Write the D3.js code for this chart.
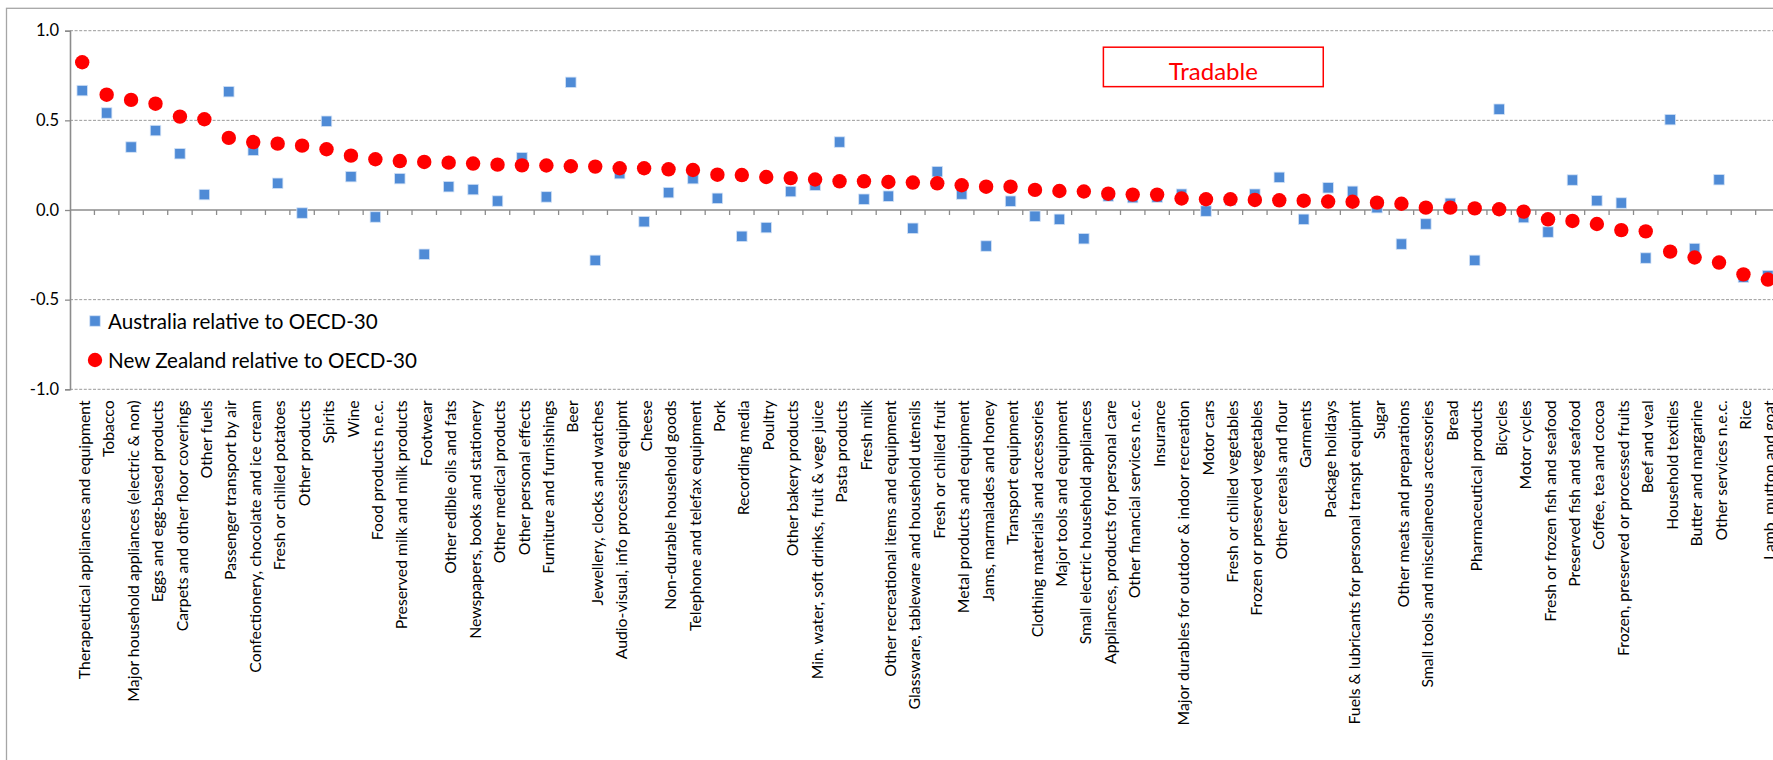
<!DOCTYPE html>
<html>
<head>
<meta charset="utf-8">
<script src="https://cdn.jsdelivr.net/npm/d3@7"></script>
<style>
  html, body { margin: 0; padding: 0; background: #fff; overflow: hidden; }
  svg { display: block; font-family: Lato, "Open Sans", sans-serif; }
</style>
</head>
<body>
<svg id="chart" width="1773" height="760"></svg>
<script>
// Price levels of tradable goods, relative to the OECD-30 average
const categories = [
  "Therapeutical appliances and equipment", "Tobacco", "Major household appliances (electric & non)",
  "Eggs and egg-based products", "Carpets and other floor coverings", "Other fuels",
  "Passenger transport by air", "Confectionery, chocolate and ice cream", "Fresh or chilled potatoes",
  "Other products", "Spirits", "Wine", "Food products n.e.c.", "Preserved milk and milk products",
  "Footwear", "Other edible oils and fats", "Newspapers, books and stationery", "Other medical products",
  "Other personal effects", "Furniture and furnishings", "Beer", "Jewellery, clocks and watches",
  "Audio-visual, info processing equipmt", "Cheese", "Non-durable household goods",
  "Telephone and telefax equipment", "Pork", "Recording media", "Poultry", "Other bakery products",
  "Min. water, soft drinks, fruit & vege juice", "Pasta products", "Fresh milk",
  "Other recreational items and equipment", "Glassware, tableware and household utensils",
  "Fresh or chilled fruit", "Metal products and equipment", "Jams, marmalades and honey",
  "Transport equipment", "Clothing materials and accessories", "Major tools and equipment",
  "Small electric household appliances", "Appliances, products for personal care",
  "Other financial services n.e.c", "Insurance", "Major durables for outdoor & indoor recreation",
  "Motor cars", "Fresh or chilled vegetables", "Frozen or preserved vegetables",
  "Other cereals and flour", "Garments", "Package holidays",
  "Fuels & lubricants for personal transpt equipmt", "Sugar", "Other meats and preparations",
  "Small tools and miscellaneous accessories", "Bread", "Pharmaceutical products", "Bicycles",
  "Motor cycles", "Fresh or frozen fish and seafood", "Preserved fish and seafood",
  "Coffee, tea and cocoa", "Frozen, preserved or processed fruits", "Beef and veal",
  "Household textiles", "Butter and margarine", "Other services n.e.c.", "Rice",
  "Lamb, mutton and goat"
];

const australia = [
  0.666, 0.541, 0.351, 0.443, 0.314, 0.086, 0.660, 0.333, 0.149, -0.017,
  0.495, 0.186, -0.039, 0.175, -0.247, 0.130, 0.114, 0.050, 0.292, 0.073,
  0.712, -0.281, 0.203, -0.065, 0.097, 0.175, 0.065, -0.147, -0.098, 0.103,
  0.138, 0.379, 0.060, 0.077, -0.102, 0.214, 0.089, -0.201, 0.049, -0.035,
  -0.052, -0.160, 0.078, 0.069, 0.072, 0.088, -0.006, 0.054, 0.088, 0.182,
  -0.052, 0.124, 0.104, 0.013, -0.190, -0.078, 0.037, -0.281, 0.562, -0.042,
  -0.123, 0.167, 0.052, 0.039, -0.268, 0.504, -0.215, 0.169, -0.375, -0.366
];

const newZealand = [
  0.824, 0.643, 0.614, 0.593, 0.521, 0.506, 0.402, 0.379, 0.370, 0.359,
  0.339, 0.303, 0.283, 0.273, 0.268, 0.264, 0.259, 0.253, 0.249, 0.248,
  0.244, 0.242, 0.233, 0.233, 0.227, 0.223, 0.197, 0.195, 0.184, 0.178,
  0.170, 0.160, 0.160, 0.156, 0.153, 0.149, 0.138, 0.130, 0.130, 0.112,
  0.106, 0.103, 0.091, 0.086, 0.086, 0.064, 0.060, 0.060, 0.056, 0.054,
  0.052, 0.047, 0.046, 0.041, 0.035, 0.013, 0.013, 0.009, 0.004, -0.009,
  -0.052, -0.061, -0.078, -0.112, -0.119, -0.232, -0.265, -0.293, -0.359, -0.388
];

const yTicks = [-1.0, -0.5, 0.0, 0.5, 1.0];
const seriesNames = ["Australia relative to OECD-30", "New Zealand relative to OECD-30"];
const panelTitle = "Tradable";

// ---- layout ----
const plot = { left: 70, top: 30.7, bottom: 389.3 };
const band = 24.43;
plot.right = plot.left + band * categories.length;

const svg = d3.select("#chart");
const gridColor = "#9a9a9a";
const axisColor = "#8c8c8c";

const x = d3.scaleBand().domain(categories).range([plot.left, plot.right]).padding(0);
const y = d3.scaleLinear().domain([-1, 1]).range([plot.bottom, plot.top]);

// chart area frame
svg.append("rect")
  .attr("x", 6.5).attr("y", 8.3)
  .attr("width", 1800).attr("height", 800)
  .attr("fill", "#fff")
  .attr("stroke", "#a6a6a6").attr("stroke-width", 1.3);

// dashed horizontal gridlines
svg.append("g")
  .selectAll("line")
  .data(yTicks.filter(d => d !== 0))
  .join("line")
  .attr("x1", plot.left).attr("x2", plot.right)
  .attr("y1", d => y(d)).attr("y2", d => y(d))
  .attr("stroke", gridColor).attr("stroke-width", 1)
  .attr("stroke-dasharray", "3,1.6");

// y axis
const yAxis = svg.append("g")
  .attr("transform", `translate(${plot.left},0)`)
  .call(d3.axisLeft(y).tickValues(yTicks).tickFormat(d3.format(".1f")).tickSize(5).tickPadding(6));
yAxis.select(".domain").attr("stroke", axisColor).attr("stroke-width", 1.6);
yAxis.selectAll(".tick line").attr("stroke", axisColor).attr("stroke-width", 1.3);
yAxis.selectAll(".tick text")
  .attr("font-family", "Lato, sans-serif").attr("font-size", 16.5).attr("fill", "#000")
  .text(d => d3.format(".1f")(d).replace("−", "-"));

// x axis line at zero with tick marks on category boundaries
const xAxisG = svg.append("g");
xAxisG.append("line")
  .attr("x1", plot.left).attr("x2", plot.right)
  .attr("y1", y(0)).attr("y2", y(0))
  .attr("stroke", axisColor).attr("stroke-width", 1.6);
xAxisG.selectAll("line.tk")
  .data(categories)
  .join("line")
  .attr("class", "tk")
  .attr("x1", d => x(d) + x.bandwidth()).attr("x2", d => x(d) + x.bandwidth())
  .attr("y1", y(0)).attr("y2", y(0) + 5)
  .attr("stroke", axisColor).attr("stroke-width", 1.3);

// category labels, rotated, hanging below the plot area
svg.append("g")
  .selectAll("text")
  .data(categories)
  .join("text")
  .attr("transform", d => `translate(${x(d) + x.bandwidth() / 2},${plot.bottom + 11}) rotate(-90)`)
  .attr("text-anchor", "end")
  .attr("dy", "0.48em")
  .attr("font-size", 15.8)
  .attr("fill", "#000")
  .text(d => d);

// Australia: blue squares
const sq = 10.5;
svg.append("g")
  .selectAll("rect")
  .data(categories.map((c, i) => ({ c, v: australia[i] })))
  .join("rect")
  .attr("x", d => x(d.c) + x.bandwidth() / 2 - sq / 2)
  .attr("y", d => y(d.v) - sq / 2)
  .attr("width", sq).attr("height", sq)
  .attr("fill", "#4f8bd6")
  .attr("stroke", "#d3e2f6").attr("stroke-width", 0.8);

// New Zealand: red circles
svg.append("g")
  .selectAll("circle")
  .data(categories.map((c, i) => ({ c, v: newZealand[i] })))
  .join("circle")
  .attr("cx", d => x(d.c) + x.bandwidth() / 2)
  .attr("cy", d => y(d.v))
  .attr("r", 7.2)
  .attr("fill", "#ff0000");

// legend
const legend = svg.append("g").attr("transform", "translate(95,0)");
legend.append("rect")
  .attr("x", -sq / 2).attr("y", 321 - sq / 2)
  .attr("width", sq).attr("height", sq)
  .attr("fill", "#4f8bd6").attr("stroke", "#d3e2f6").attr("stroke-width", 0.8);
legend.append("circle").attr("cx", 0).attr("cy", 360).attr("r", 7.2).attr("fill", "#ff0000");
legend.selectAll("text")
  .data(seriesNames)
  .join("text")
  .attr("x", 13)
  .attr("y", (d, i) => [328.5, 367.5][i])
  .attr("font-size", 20.6)
  .attr("fill", "#000")
  .text(d => d);

// panel label box
const boxX0 = plot.left + band * 42.3, boxX1 = plot.left + band * 51.3;
const boxY0 = y(0.908), boxY1 = y(0.688);
svg.append("rect")
  .attr("x", boxX0).attr("y", boxY0)
  .attr("width", boxX1 - boxX0).attr("height", boxY1 - boxY0)
  .attr("fill", "#fff").attr("stroke", "#ff0000").attr("stroke-width", 1.5);
svg.append("text")
  .attr("x", (boxX0 + boxX1) / 2).attr("y", boxY1 - 7)
  .attr("text-anchor", "middle")
  .attr("font-size", 24)
  .attr("fill", "#ff0000")
  .text(panelTitle);
</script>
</body>
</html>
